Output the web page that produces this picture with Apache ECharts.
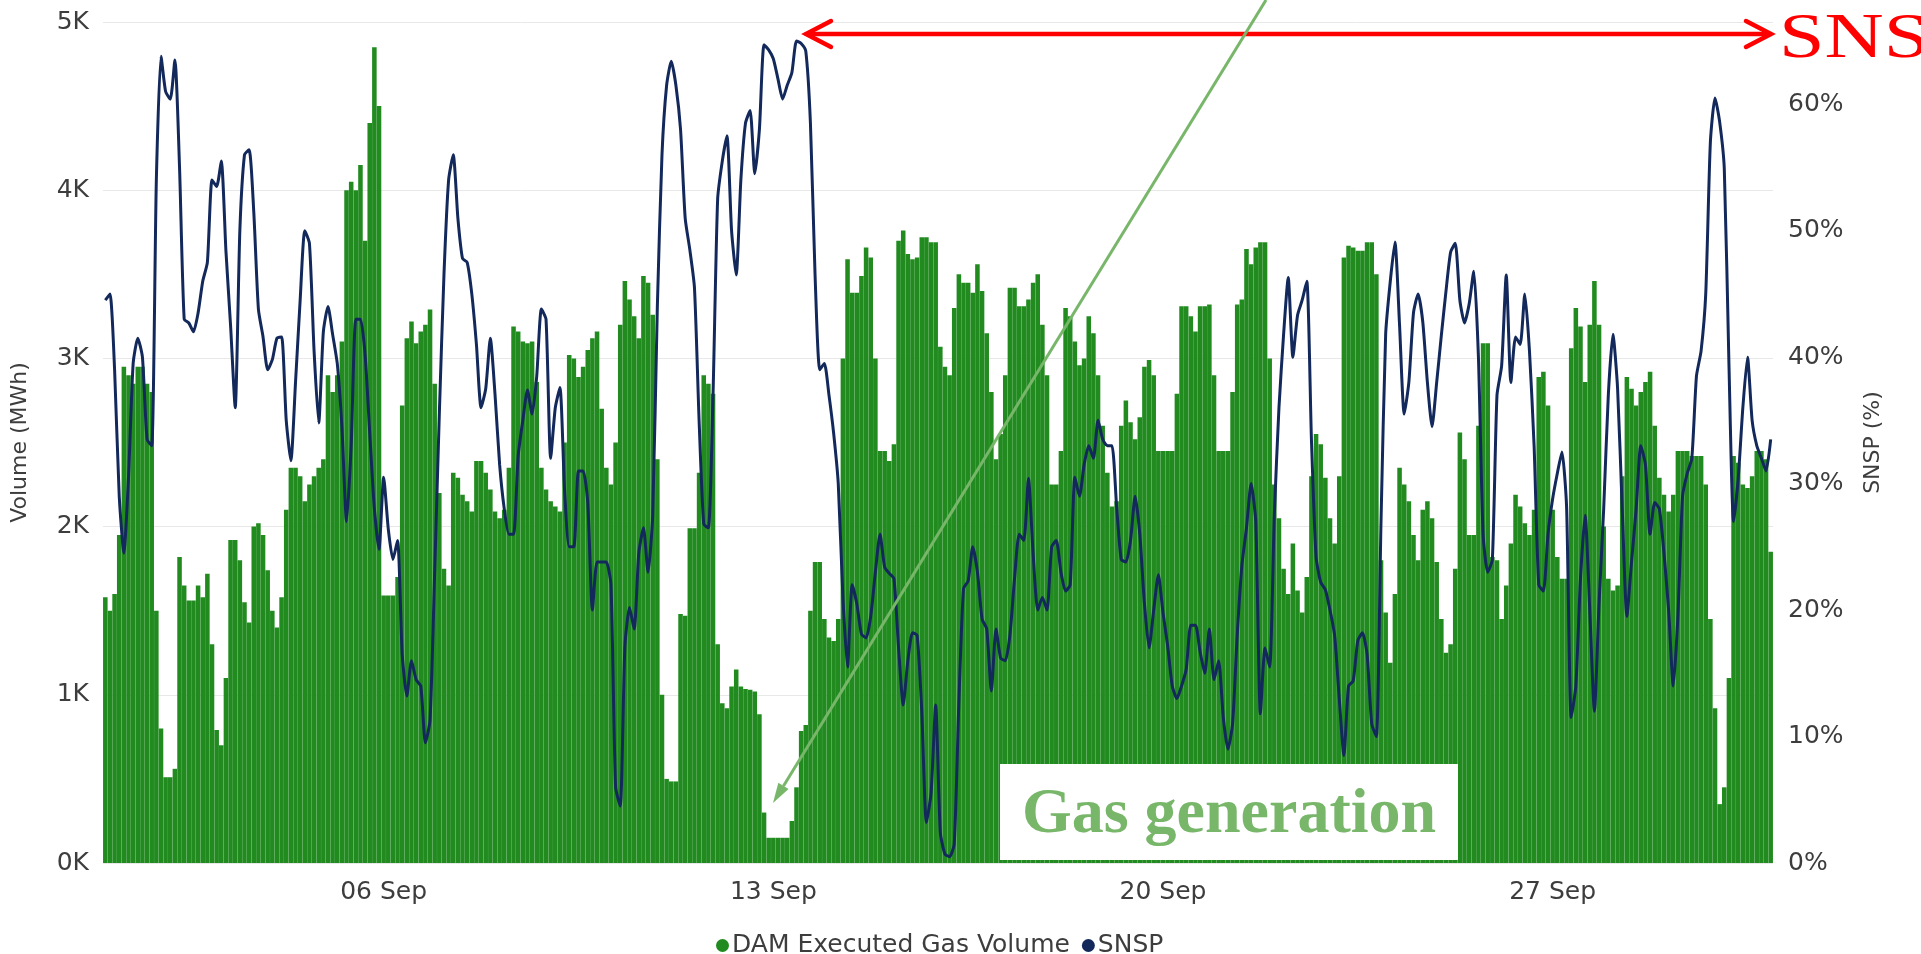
<!DOCTYPE html>
<html>
<head>
<meta charset="utf-8">
<title>DAM Executed Gas Volume and SNSP – September</title>
<script src="https://cdn.jsdelivr.net/npm/echarts@6/dist/echarts.min.js"></script>
<style>
  html, body { margin: 0; padding: 0; background: #ffffff; }
  #chart { width: 1921px; height: 954px; }
</style>
</head>
<body>
<div id="chart"></div>
<script>
// Month covered and bar resolution (two-hour blocks, 12 per day)
const monthLabel = 'Sep';
const dayCount = 30;
const hoursPerBar = 2;

// Dates that carry a label on the time axis
const xTickLabels = ['06 Sep', '13 Sep', '20 Sep', '27 Sep'];

// Left axis ticks (MWh) and right axis ticks (%)
const volumeTicks = [0, 1000, 2000, 3000, 4000, 5000];
const snspTicks = [0, 10, 20, 30, 40, 50, 60];

// DAM executed gas volume, MWh per two-hour block, one row per day
const gasVolumeMWh = [
  1580,1500,1600,1950,2950,2900,2850,2950,2950,2850,2800,1500, // 01
  800,510,510,560,1820,1650,1560,1560,1650,1580,1720,1300,     // 02
  790,700,1100,1920,1920,1800,1550,1430,2000,2020,1950,1740,   // 03
  1500,1400,1580,2100,2350,2350,2300,2150,2250,2300,2350,2400, // 04
  2900,2800,2900,3100,4000,4050,4000,4150,3700,4400,4850,4500, // 05
  1590,1590,1590,1700,2720,3120,3220,3090,3160,3200,3290,2850, // 06
  2200,1750,1650,2320,2290,2190,2150,2090,2390,2390,2320,2220, // 07
  2090,2050,2100,2350,3190,3160,3100,3090,3100,2860,2350,2220, // 08
  2150,2120,2090,2500,3020,3000,2890,2950,3050,3120,3160,2700, // 09
  2350,2250,2500,3200,3460,3350,3250,3120,3490,3450,3260,2400, // 10
  1000,500,485,485,1480,1470,1990,1990,2320,2900,2850,2790,    // 11
  1300,950,920,1050,1150,1050,1035,1030,1020,885,300,150,      // 12
  150,150,150,150,250,450,785,820,1500,1790,1790,1450,         // 13
  1340,1320,1450,3000,3590,3390,3390,3490,3660,3600,3000,2450, // 14
  2450,2390,2490,3700,3760,3620,3590,3600,3720,3720,3690,3690, // 15
  3070,2950,2900,3300,3500,3450,3450,3390,3560,3400,3150,2800, // 16
  2400,2550,2900,3420,3420,3310,3310,3350,3450,3500,3200,2900, // 17
  2250,2250,2450,3300,3250,3100,2960,3000,3250,3150,2900,2600, // 18
  2320,2120,2150,2600,2750,2620,2520,2650,2950,2990,2900,2450, // 19
  2450,2450,2450,2790,3310,3310,3250,3160,3310,3310,3320,2900, // 20
  2450,2450,2450,2800,3320,3350,3650,3560,3660,3690,3690,3000, // 21
  2250,2050,1750,1600,1900,1620,1490,1700,2300,2550,2490,2290, // 22
  2050,1900,2300,3600,3670,3660,3640,3640,3690,3690,3500,1800, // 23
  1490,1190,1600,2350,2250,2150,1950,1800,2100,2150,2050,1790, // 24
  1450,1250,1300,1750,2560,2400,1950,1950,2600,3090,3090,1820, // 25
  1800,1450,1650,1900,2190,2120,2020,1950,2100,2890,2920,2720, // 26
  2100,1820,1690,1690,3060,3300,3190,2860,3200,3460,3200,2000, // 27
  1690,1620,1650,2300,2890,2820,2720,2800,2860,2920,2600,2290, // 28
  2190,2090,2190,2450,2450,2450,2420,2420,2420,2250,1450,920,  // 29
  350,450,1100,2420,2380,2250,2230,2300,2450,2450,2400,1850    // 30
];

// System non-synchronous penetration, %, same two-hour blocks
const snspPercent = [
  44.5,45,39,29,24.5,30.5,39.5,41.5,40,33.5,33,54,           // 01
  63.8,61,60.4,63.5,55,43,42.7,42,43.5,46,47.5,54,           // 02
  53.5,55.5,48.4,42.5,36,50,56,56.4,51.5,43.8,41.6,39,       // 03
  39.8,41.5,41.6,35,31.8,38,44.5,50,49,40.5,34.8,42,         // 04
  44,41.8,39.5,34.5,27,33,43,43,40.2,34,28,24.8,             // 05
  30.5,26.4,24,25.5,16.5,13.2,16,14.5,14,9.5,11.3,23,        // 06
  35.5,46.5,54,56,51,47.8,47.5,45,41,36,37.5,41.5,           // 07
  37.1,31.5,28,26,26,32.2,35,37.4,35.5,38.5,43.8,43,         // 08
  32,36,37.6,29.5,25,25,31,31,28.5,20,23.8,23.8,             // 09
  23.8,22,6,4.5,17.1,20.2,18.5,24.5,26.5,23,27.5,44,         // 10
  56,61.5,63.4,61.5,58,51,48.5,45.5,35,26.8,26.5,37,         // 11
  52.5,55.5,57.5,50,46.5,54,58.5,59.5,54.5,58,64.7,64.3,     // 12
  63.6,62,60.4,61.5,62.5,65,64.8,64.2,58.5,46.5,39,39.5,     // 13
  37,34,30,21,15.5,22,20.5,18.1,17.8,19.5,23,26,             // 14
  23.4,22.9,22.5,17,12.5,16,18.2,18,12,3.2,5.5,12.5,         // 15
  2.4,0.7,0.5,1.5,12.7,21.7,22.3,25,23,19.3,18.5,13.6,       // 16
  18.5,16.2,16,18,22.5,26,25.5,30.4,24.5,20,21,20,           // 17
  25,25.5,23,21.5,22,30.5,29,31.5,33,32,35,33.5,             // 18
  33,33,28.2,24,23.8,25.5,29,26,20.5,17,20,22.8,             // 19
  19.8,17.2,14,13,14,15.3,18.8,18.8,16.7,15,18.5,14.5,       // 20
  16,11.5,9,11,18,23.5,26.5,30,27,11.8,17,15.5,              // 21
  27.5,36,41.8,46.3,40,43.3,44.5,46,33.5,24.2,22.2,21.6,     // 22
  20,18,13,8.5,14,14.4,17.6,18.2,16.5,11,10,27,              // 23
  41.8,46,49.1,42.5,35.5,38,43.5,45,42.8,38,34.5,38,         // 24
  41.7,45.2,48.3,49,44.5,42.7,44.2,46.8,40,26,23,24,         // 25
  37,39.3,46.5,38,41.6,41,45,40.5,33,22,21.5,26,             // 26
  28.8,30.8,32.5,28.2,11.5,14,22.5,27.5,20,12,20.5,28,       // 27
  37,41.8,37.5,28,19.5,23.8,28,33,31.5,26,28.5,28,           // 28
  24.5,20,14,19.5,29,30.8,32,38.5,40.5,45,57,60.5,           // 29
  58.6,54.9,39.5,27,30.4,36,40,35,33,32,31,33.5              // 30
];

// Category labels "DD Sep HH:00" for every two-hour block
const categories = [];
for (let d = 1; d <= dayCount; d++) {
  for (let h = 0; h < 24; h += hoursPerBar) {
    categories.push(String(d).padStart(2, '0') + ' ' + monthLabel + ' ' + String(h).padStart(2, '0') + ':00');
  }
}
const labelledCategories = xTickLabels.map(t => t + ' 00:00');

const uiFont = '"DejaVu Sans", "Noto Sans", sans-serif';
const serifFont = '"Liberation Serif", "DejaVu Serif", serif';
const textGrey = '#3d3d3d';
const gasGreen = '#218b20';
const snspNavy = '#13295b';
const noteGreen = '#78b66a';
const noteRed = '#ff0000';

const chart = echarts.init(document.getElementById('chart'), null, { renderer: 'canvas' });

// Annotation arrow pointing at the gas low: head built from the shaft direction
const arrowTail = [1266, 0];
const arrowTip = [773, 803];
const dx = arrowTip[0] - arrowTail[0], dy = arrowTip[1] - arrowTail[1];
const len = Math.hypot(dx, dy);
const ux = dx / len, uy = dy / len;
const headLen = 20, headHalf = 6;
const headBase = [arrowTip[0] - ux * headLen, arrowTip[1] - uy * headLen];
const headPts = [
  arrowTip,
  [headBase[0] - uy * headHalf, headBase[1] + ux * headHalf],
  [headBase[0] + uy * headHalf, headBase[1] - ux * headHalf]
];

chart.setOption({
  animation: false,
  backgroundColor: '#ffffff',
  grid: { left: 103, right: 148, top: 22, bottom: 91, containLabel: false },
  legend: {
    left: 711,
    top: 928,
    icon: 'circle',
    itemWidth: 13,
    itemHeight: 13,
    itemGap: 12,
    textStyle: { fontFamily: uiFont, fontSize: 25, color: textGrey, padding: [0, 0, 0, -2] },
    data: ['DAM Executed Gas Volume', 'SNSP']
  },
  xAxis: {
    type: 'category',
    data: categories,
    boundaryGap: true,
    axisLine: { show: false },
    axisTick: { show: false },
    splitLine: { show: false },
    axisLabel: {
      interval: (i, v) => labelledCategories.indexOf(v) !== -1,
      formatter: v => v.slice(0, 6),
      fontFamily: uiFont,
      fontSize: 25,
      color: textGrey,
      margin: 17
    }
  },
  yAxis: [
    {
      type: 'value',
      min: volumeTicks[0],
      max: volumeTicks[volumeTicks.length - 1],
      interval: volumeTicks[1] - volumeTicks[0],
      name: 'Volume (MWh)',
      nameLocation: 'middle',
      nameGap: 72,
      nameTextStyle: { fontFamily: uiFont, fontSize: 22, color: textGrey },
      axisLine: { show: false },
      axisTick: { show: false },
      splitLine: { lineStyle: { color: '#e8e8e8', width: 1 } },
      axisLabel: {
        formatter: v => (v / 1000) + 'K',
        fontFamily: uiFont,
        fontSize: 25,
        color: textGrey,
        margin: 14
      }
    },
    {
      type: 'value',
      position: 'right',
      min: snspTicks[0],
      max: 66.5,
      interval: snspTicks[1] - snspTicks[0],
      name: 'SNSP (%)',
      nameLocation: 'middle',
      nameGap: 89,
      nameTextStyle: { fontFamily: uiFont, fontSize: 22, color: textGrey },
      axisLine: { show: false },
      axisTick: { show: false },
      splitLine: { show: false },
      axisLabel: {
        showMaxLabel: false,
        formatter: v => (snspTicks.indexOf(v) !== -1 ? v + '%' : ''),
        fontFamily: uiFont,
        fontSize: 25,
        color: textGrey,
        margin: 15
      }
    }
  ],
  series: [
    {
      name: 'DAM Executed Gas Volume',
      type: 'bar',
      yAxisIndex: 0,
      data: gasVolumeMWh,
      barCategoryGap: '2%',
      itemStyle: { color: gasGreen },
      z: 2
    },
    {
      name: 'SNSP',
      type: 'line',
      yAxisIndex: 1,
      data: snspPercent,
      showSymbol: false,
      smooth: 0.2,
      itemStyle: { color: snspNavy },
      lineStyle: { color: snspNavy, width: 3 },
      z: 3
    }
  ],
  graphic: [
    // red double-headed arrow spanning the high-SNSP band
    { type: 'line', z: 100, shape: { x1: 807, y1: 34, x2: 1770, y2: 34 },
      style: { stroke: noteRed, lineWidth: 4.5 } },
    { type: 'polyline', z: 100, shape: { points: [[831, 21], [806, 34], [831, 47]] },
      style: { stroke: noteRed, lineWidth: 4.5, fill: null, lineCap: 'round', lineJoin: 'miter' } },
    { type: 'polyline', z: 100, shape: { points: [[1746, 21], [1771, 34], [1746, 47]] },
      style: { stroke: noteRed, lineWidth: 4.5, fill: null, lineCap: 'round', lineJoin: 'miter' } },
    { type: 'text', z: 100, x: 1779, y: 40, scaleX: 1.28,
      style: { text: 'SNSP', font: '64px ' + serifFont, fill: noteRed, align: 'left', verticalAlign: 'middle' } },
    // green arrow to the gas generation low
    { type: 'line', z: 100, shape: { x1: arrowTail[0], y1: arrowTail[1], x2: headBase[0], y2: headBase[1] },
      style: { stroke: noteGreen, lineWidth: 3 } },
    { type: 'polygon', z: 100, shape: { points: headPts }, style: { fill: noteGreen } },
    // label box
    { type: 'rect', z: 100, shape: { x: 1000, y: 764, width: 458, height: 96 },
      style: { fill: '#ffffff' } },
    { type: 'text', z: 101, x: 1229, y: 815,
      style: { text: 'Gas generation', font: 'bold 64px ' + serifFont, fill: noteGreen, align: 'center', verticalAlign: 'middle' } }
  ]
});
</script>
</body>
</html>
